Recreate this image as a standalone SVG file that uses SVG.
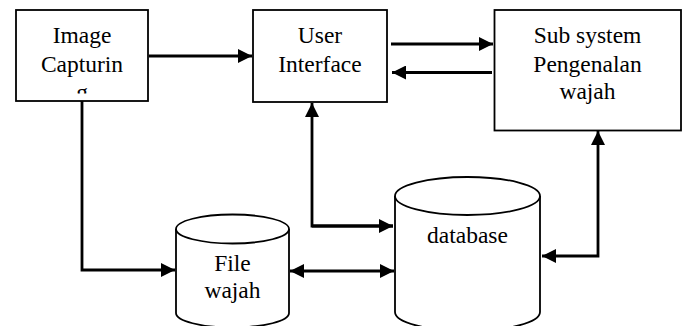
<svg xmlns="http://www.w3.org/2000/svg" width="686" height="326" viewBox="0 0 686 326">
  <style>
    .box { fill: #fff; stroke: #000; stroke-width: 1.8; }
    .cyl { fill: #fff; stroke: #000; stroke-width: 1.8; }
    .lbl { font-family: "Liberation Serif", "Times New Roman", serif; font-size: 23.5px; fill: #000; text-anchor: middle; }
    .wire { fill: none; stroke: #000; stroke-width: 2.8; }
  </style>
  <defs>
    <marker id="head" markerUnits="userSpaceOnUse" viewBox="0 0 14 14" refX="14" refY="7" markerWidth="14" markerHeight="14" orient="auto-start-reverse">
      <path d="M0,0 L14,7 L0,14 Z" fill="#000"/>
    </marker>
    <clipPath id="capClip">
      <rect x="16" y="10" width="132" height="83.5"/>
    </clipPath>
  </defs>
  <rect width="686" height="326" fill="#fff"/>

  <g id="image-capturing">
    <rect class="box" x="16" y="10" width="132" height="91"/>
    <g clip-path="url(#capClip)">
      <text class="lbl" x="82" y="43">Image</text>
      <text class="lbl" x="82" y="72">Capturin</text>
      <text class="lbl" x="82" y="99.5">g</text>
    </g>
  </g>

  <g id="user-interface">
    <rect class="box" x="253" y="10" width="134" height="92"/>
    <text class="lbl" x="320" y="43">User</text>
    <text class="lbl" x="320" y="72">Interface</text>
  </g>

  <g id="sub-system">
    <rect class="box" x="494.5" y="10" width="186.5" height="120.5"/>
    <text class="lbl" x="587.5" y="43">Sub system</text>
    <text class="lbl" x="587.5" y="72">Pengenalan</text>
    <text class="lbl" x="587.5" y="99">wajah</text>
  </g>

  <g id="file-wajah">
    <path class="cyl" d="M176,229 L176,313 A56.5,14.5 0 0 0 289,313 L289,229"/>
    <ellipse class="cyl" cx="232.5" cy="229" rx="56.5" ry="14.5"/>
    <text class="lbl" x="232.5" y="271">File</text>
    <text class="lbl" x="232.5" y="298">wajah</text>
  </g>

  <g id="database">
    <path class="cyl" d="M395,196 L395,312 A72.5,19 0 0 0 540,312 L540,196"/>
    <ellipse class="cyl" cx="467.5" cy="196" rx="72.5" ry="19"/>
    <text class="lbl" x="467.5" y="243">database</text>
  </g>

  <g id="connectors">
    <!-- capture to user interface -->
    <path class="wire" d="M149,56 L252,56" marker-end="url(#head)"/>
    <!-- user interface to sub system and back -->
    <path class="wire" d="M391,44 L493,44" marker-end="url(#head)"/>
    <path class="wire" d="M492,72.5 L392,72.5" marker-end="url(#head)"/>
    <!-- capture down to file store -->
    <path class="wire" d="M82,101 L82,270 L175,270" marker-end="url(#head)"/>
    <!-- database up to user interface -->
    <path class="wire" d="M393,226 L312,226 L312,103" marker-end="url(#head)"/>
    <path class="wire" d="M312,226 L393,226" marker-end="url(#head)"/>
    <!-- file store and database -->
    <path class="wire" d="M290,271 L394,271" marker-start="url(#head)" marker-end="url(#head)"/>
    <!-- database and sub system -->
    <path class="wire" d="M542,256 L598,256 L598,131" marker-start="url(#head)" marker-end="url(#head)"/>
  </g>
</svg>
